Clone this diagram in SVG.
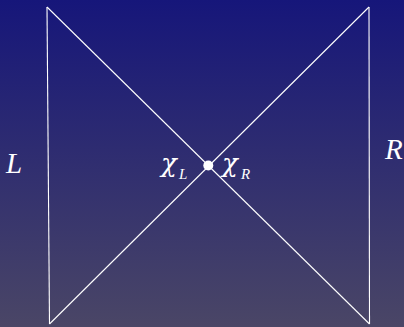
<svg xmlns="http://www.w3.org/2000/svg" width="404" height="327" viewBox="0 0 404 327">
<defs>
<linearGradient id="bg" x1="0" y1="0" x2="0" y2="1">
<stop offset="0" stop-color="#16167a"/>
<stop offset="1" stop-color="#4a4666"/>
</linearGradient>
<style>
.ln{stroke:#ffffff;stroke-width:1.1;fill:none}
.t{font-family:"Liberation Serif","DejaVu Serif",serif;font-style:italic;fill:#ffffff}
.c{font-family:"DejaVu Serif",serif;font-style:italic;fill:#ffffff}
</style>
</defs>
<rect width="404" height="327" fill="url(#bg)"/>
<g id="connectors">
<line class="ln" x1="47" y1="7" x2="49.5" y2="324"/>
<line class="ln" x1="369" y1="7" x2="369.5" y2="324"/>
<line class="ln" x1="47" y1="7" x2="369.5" y2="324"/>
<line class="ln" x1="369" y1="7" x2="49.5" y2="324"/>
</g>
<g id="node-center">
<circle cx="208.3" cy="165.5" r="5" fill="#ffffff"/>
</g>
<g id="label-L"><text class="t" x="6" y="173" font-size="29">L</text></g>
<g id="label-R"><text class="t" x="385" y="159" font-size="29">R</text></g>
<g id="label-chiL"><text class="c" x="161" y="172" font-size="26">χ</text><text class="t" x="179" y="179" font-size="15">L</text></g>
<g id="label-chiR"><text class="c" x="222" y="172" font-size="26">χ</text><text class="t" x="241" y="179" font-size="15">R</text></g>
</svg>
